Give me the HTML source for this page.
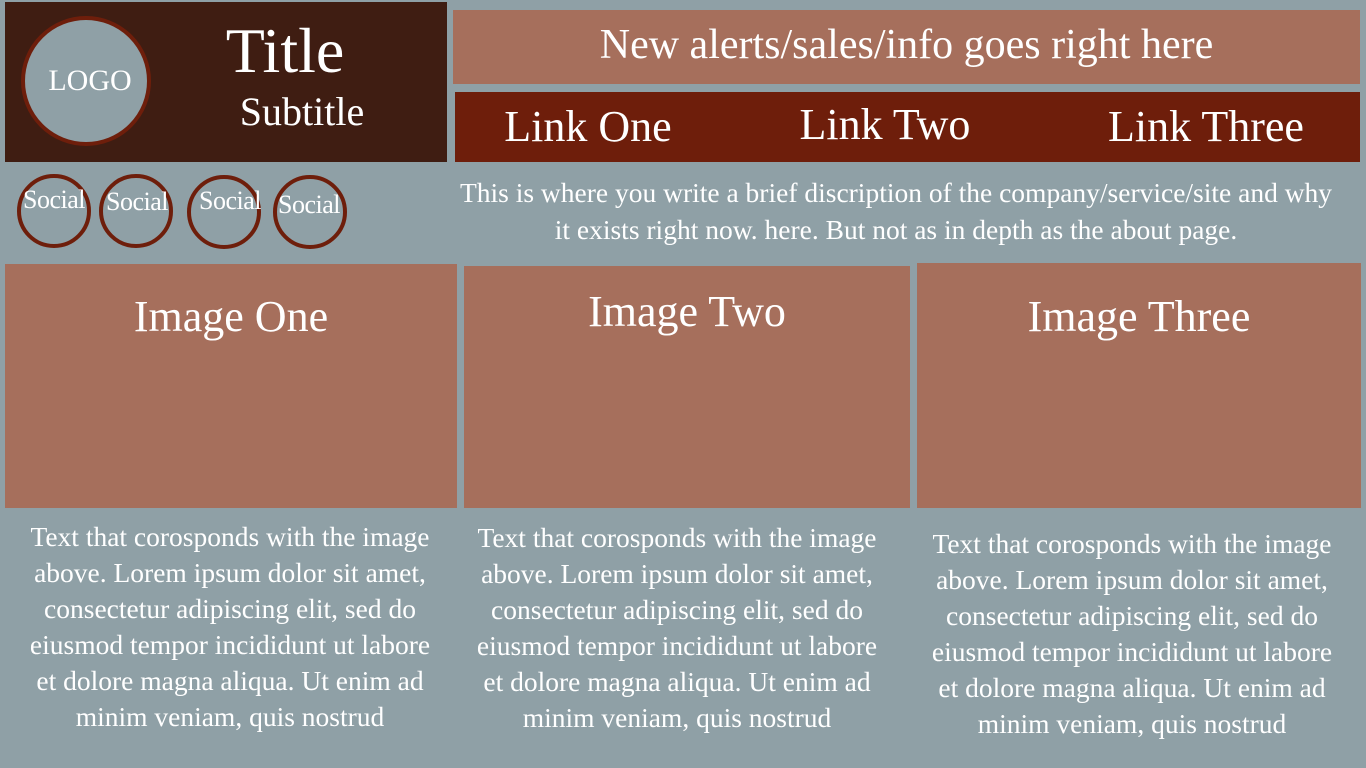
<!DOCTYPE html>
<html><head><meta charset="utf-8"><style>
body{margin:0;width:1366px;height:768px;background:#8fa0a6;position:relative;overflow:hidden;font-family:"Liberation Serif",serif;color:#fff}
div{position:absolute;box-sizing:border-box}
.c{text-align:center;white-space:nowrap}
.soc{width:74px;height:74px;border:4px solid #6e1e0b;border-radius:50%}
.st{font-size:26px;width:100px;text-align:center;line-height:30px;letter-spacing:-0.5px}
.img{background:#a66f5c}
.it{font-size:44px;width:100%;text-align:center;line-height:50px}
.p{font-size:27.5px;line-height:36px;text-align:center;width:460px;white-space:nowrap}
</style></head><body>
<div style="left:5px;top:2px;width:442px;height:160px;background:#3f1d12"></div>
<div style="left:21px;top:16px;width:130px;height:130px;border-radius:50%;background:#8fa0a6;border:4px solid #6e1e0b"></div>
<div class="c" style="left:21px;top:64px;width:138px;font-size:30px;line-height:34px">LOGO</div>
<div class="c" style="left:185px;top:16px;width:200px;font-size:64px;line-height:70px">Title</div>
<div class="c" style="left:202px;top:90px;width:200px;font-size:40px;line-height:44px">Subtitle</div>

<div style="left:453px;top:10px;width:907px;height:74px;background:#a66f5c"></div>
<div class="c" style="left:453px;top:20px;width:907px;font-size:42px;line-height:50px">New alerts/sales/info goes right here</div>
<div style="left:455px;top:92px;width:905px;height:70px;background:#6e1e0b"></div>
<div class="c" style="left:488px;top:102px;width:200px;font-size:44px;line-height:50px">Link One</div>
<div class="c" style="left:785px;top:100px;width:200px;font-size:44px;line-height:50px">Link Two</div>
<div class="c" style="left:1076px;top:102px;width:260px;font-size:44px;line-height:50px">Link Three</div>

<div class="soc" style="left:17px;top:174px"></div>
<div class="soc" style="left:99px;top:174px"></div>
<div class="soc" style="left:187px;top:175px"></div>
<div class="soc" style="left:273px;top:175px"></div>
<div class="st" style="left:4px;top:185px">Social</div>
<div class="st" style="left:87px;top:187px">Social</div>
<div class="st" style="left:180px;top:186px">Social</div>
<div class="st" style="left:259px;top:190px">Social</div>

<div style="left:446px;top:174px;width:900px;font-size:27.5px;line-height:37px;text-align:center">This is where you write a brief discription of the company/service/site and why<br>it exists right now. here. But not as in depth as the about page.</div>

<div class="img" style="left:5px;top:264px;width:452px;height:244px"><div class="it" style="top:28px">Image One</div></div>
<div class="img" style="left:464px;top:266px;width:446px;height:242px"><div class="it" style="top:21px">Image Two</div></div>
<div class="img" style="left:917px;top:263px;width:444px;height:245px"><div class="it" style="top:29px">Image Three</div></div>

<div class="p" style="left:0px;top:519px">Text that corosponds with the image<br>above. Lorem ipsum dolor sit amet,<br>consectetur adipiscing elit, sed do<br>eiusmod tempor incididunt ut labore<br>et dolore magna aliqua. Ut enim ad<br>minim veniam, quis nostrud</div>
<div class="p" style="left:447px;top:520px">Text that corosponds with the image<br>above. Lorem ipsum dolor sit amet,<br>consectetur adipiscing elit, sed do<br>eiusmod tempor incididunt ut labore<br>et dolore magna aliqua. Ut enim ad<br>minim veniam, quis nostrud</div>
<div class="p" style="left:902px;top:526px">Text that corosponds with the image<br>above. Lorem ipsum dolor sit amet,<br>consectetur adipiscing elit, sed do<br>eiusmod tempor incididunt ut labore<br>et dolore magna aliqua. Ut enim ad<br>minim veniam, quis nostrud</div>
</body></html>
